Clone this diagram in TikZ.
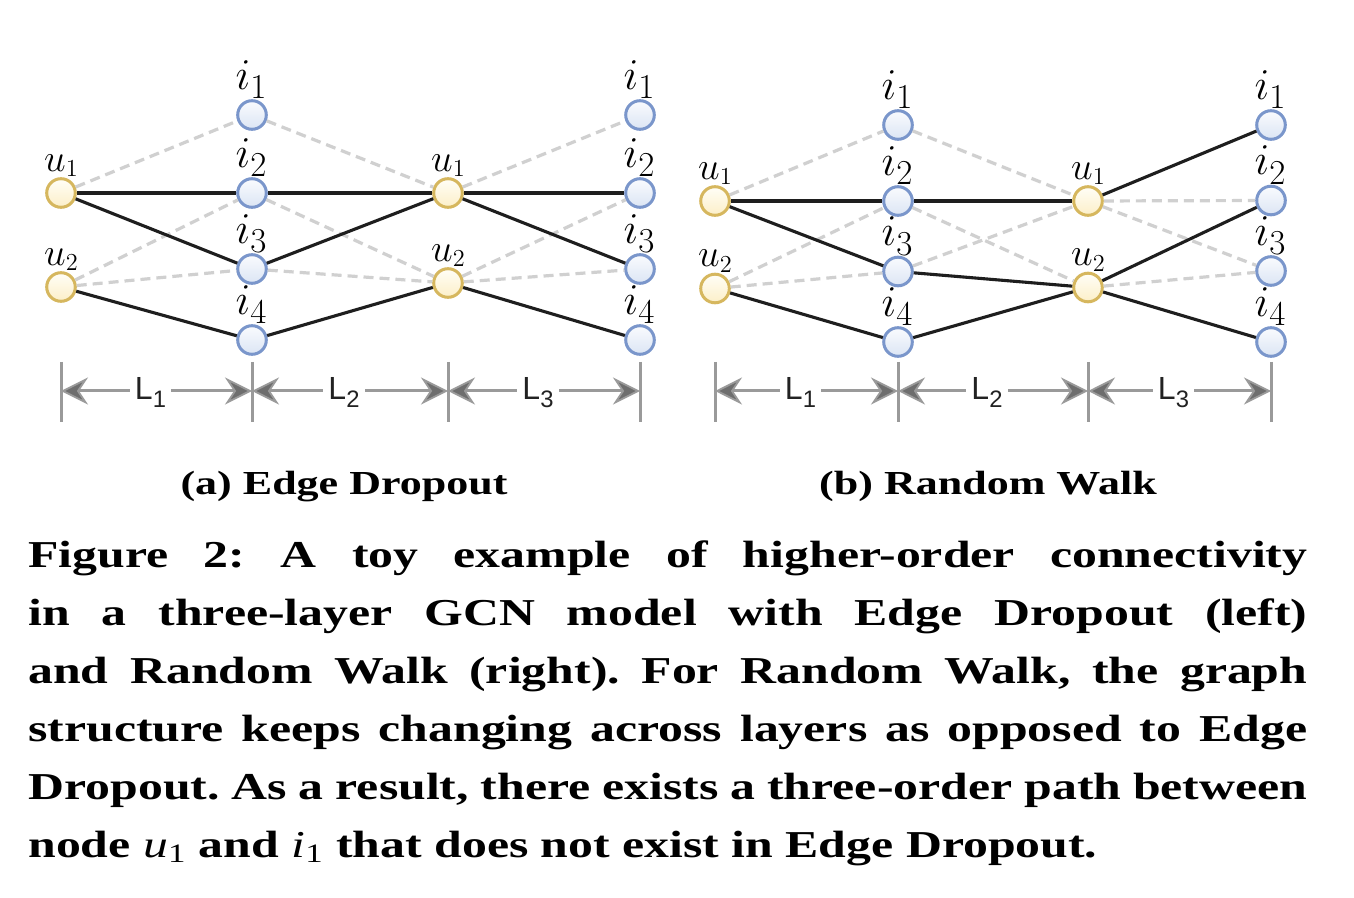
\RequirePackage{fix-cm}
\documentclass[tikz,border=0pt]{standalone}
\usepackage{fontspec}
\setmainfont{Liberation Serif}[FakeStretch=1.31]
\newfontfamily\dimfont{Liberation Sans}
\usetikzlibrary{arrows.meta}
\definecolor{ugold}{HTML}{D6B75E}
\definecolor{utop}{HTML}{FFFEF7}
\definecolor{ubot}{HTML}{FCEFC8}
\definecolor{iblue}{HTML}{7A96CB}
\definecolor{itop}{HTML}{F9FBFE}
\definecolor{ibot}{HTML}{DCE5F4}
\definecolor{solidc}{HTML}{1E1E1E}
\definecolor{dashc}{HTML}{D0D0D0}
\definecolor{dimc}{HTML}{9A9A9A}
\definecolor{tipc}{HTML}{6E6E6E}
\definecolor{dimtext}{HTML}{222222}
\newcommand\ulab[1]{{\fontsize{19.4}{20}\selectfont$u$}\raisebox{-2.8pt}{\fontsize{12.2}{13}\selectfont$#1$}}
\newcommand\ilab[1]{{\fontsize{22}{24}\selectfont$i$}\raisebox{-4.8pt}{\fontsize{17.5}{18}\selectfont$#1$}}
\newcommand\dlab[1]{L\raisebox{-4pt}{\fontsize{11.9}{12}\selectfont #1}}
\tikzset{
  unode/.style={circle, draw=ugold, line width=1.5pt, minimum size=14.3pt, inner sep=0pt, top color=utop, bottom color=ubot},
  inode/.style={circle, draw=iblue, line width=1.5pt, minimum size=14.3pt, inner sep=0pt, top color=itop, bottom color=ibot},
  glabel/.style={inner sep=0pt},
  soledge/.style={draw=solidc, line width=1.55pt},
  dashedge/.style={draw=dashc, line width=1.6pt, dash pattern=on 5pt off 3pt},
  dimtick/.style={draw=dimc, line width=1.5pt},
  dimarrow/.style={draw=dimc, line width=1.5pt, {Stealth[length=13.5pt, width=13.5pt, inset=4.5pt, fill=tipc, line width=0.9pt]}-{Stealth[length=13.5pt, width=13.5pt, inset=4.5pt, fill=tipc, line width=0.9pt]}},
  dimlabel/.style={fill=white, inner xsep=2.5pt, inner ysep=0pt, text=dimtext, font=\dimfont\fontsize{16}{16}\selectfont, xshift=-3pt, yshift=-0.6pt},
  subcap/.style={anchor=base, inner sep=0pt, font=\fontsize{16.8}{20}\selectfont\bfseries},
}
\begin{document}
\frenchspacing
\begin{tikzpicture}[x=0.5pt, y=-0.5pt]
\fill[white] (0,0) rectangle (1354,898);
\useasboundingbox (0,0) rectangle (1354,898);

% ---------------- panel (a) ----------------
\foreach \n/\x/\y/\k in {a-u1/61/193/1, a-u2/61/287/2, a-v1/448/193/1, a-v2/448/283/2}
  \node[unode, label={[glabel]above:\ulab{\k}}] (\n) at (\x,\y) {};
\foreach \n/\x/\y/\k in {a-i1/252/115/1, a-i2/252/193/2, a-i3/252/269/3, a-i4/252/340/4,
                         a-j1/640/115/1, a-j2/640/193/2, a-j3/640/269/3, a-j4/640/340/4}
  \node[inode, label={[glabel, xshift=-0.5pt]above:\ilab{\k}}] (\n) at (\x,\y) {};

\draw[dashedge] (a-u1) -- (a-i1);
\draw[dashedge] (a-u2) -- (a-i2);
\draw[dashedge] (a-u2) -- (a-i3);
\draw[dashedge] (a-i1) -- (a-v1);
\draw[dashedge] (a-i2) -- (a-v2);
\draw[dashedge] (a-i3) -- (a-v2);
\draw[dashedge] (a-v1) -- (a-j1);
\draw[dashedge] (a-v2) -- (a-j2);
\draw[dashedge] (a-v2) -- (a-j3);

\draw[soledge] (a-u1) -- (a-i2);
\draw[soledge] (a-u1) -- (a-i3);
\draw[soledge] (a-u2) -- (a-i4);
\draw[soledge] (a-i2) -- (a-v1);
\draw[soledge] (a-i3) -- (a-v1);
\draw[soledge] (a-i4) -- (a-v2);
\draw[soledge] (a-v1) -- (a-j2);
\draw[soledge] (a-v1) -- (a-j3);
\draw[soledge] (a-v2) -- (a-j4);

\coordinate (a-t1) at (61,391);
\coordinate (a-t2) at (252,391);
\coordinate (a-t3) at (448,391);
\coordinate (a-t4) at (640,391);
\foreach \t in {a-t1,a-t2,a-t3,a-t4}
  \draw[dimtick] (\t) ++(0,-29) -- ++(0,60);
\draw[dimarrow] (a-t1) -- node[dimlabel] (a-L1) {\dlab{1}} (a-t2);
\draw[dimarrow] (a-t2) -- node[dimlabel] (a-L2) {\dlab{2}} (a-t3);
\draw[dimarrow] (a-t3) -- node[dimlabel] (a-L3) {\dlab{3}} (a-t4);

\node[subcap] (capa) at (344,494) {(a) Edge Dropout};

% ---------------- panel (b) ----------------
\foreach \n/\x/\y/\k in {b-u1/715/201/1, b-u2/715/288.5/2, b-v1/1088/201/1, b-v2/1088/287.5/2}
  \node[unode, label={[glabel]above:\ulab{\k}}] (\n) at (\x,\y) {};
\foreach \n/\x/\y/\k in {b-i1/898/125/1, b-i2/898/201/2, b-i3/898/271.5/3, b-i4/898/342/4,
                         b-j1/1271/125/1, b-j2/1271/200.5/2, b-j3/1271/271/3, b-j4/1271/342/4}
  \node[inode, label={[glabel, xshift=-0.5pt]above:\ilab{\k}}] (\n) at (\x,\y) {};

\draw[dashedge] (b-u1) -- (b-i1);
\draw[dashedge] (b-u2) -- (b-i2);
\draw[dashedge] (b-u2) -- (b-i3);
\draw[dashedge] (b-i1) -- (b-v1);
\draw[dashedge] (b-i2) -- (b-v2);
\draw[dashedge] (b-i3) -- (b-v1);
\draw[dashedge] (b-v1) -- (b-j2);
\draw[dashedge] (b-v1) -- (b-j3);
\draw[dashedge] (b-v2) -- (b-j3);

\draw[soledge] (b-u1) -- (b-i2);
\draw[soledge] (b-u1) -- (b-i3);
\draw[soledge] (b-u2) -- (b-i4);
\draw[soledge] (b-i2) -- (b-v1);
\draw[soledge] (b-i3) -- (b-v2);
\draw[soledge] (b-i4) -- (b-v2);
\draw[soledge] (b-v1) -- (b-j1);
\draw[soledge] (b-v2) -- (b-j2);
\draw[soledge] (b-v2) -- (b-j4);

\coordinate (b-t1) at (715,391);
\coordinate (b-t2) at (898,391);
\coordinate (b-t3) at (1088,391);
\coordinate (b-t4) at (1271,391);
\foreach \t in {b-t1,b-t2,b-t3,b-t4}
  \draw[dimtick] (\t) ++(0,-29) -- ++(0,60);
\draw[dimarrow] (b-t1) -- node[dimlabel] (b-L1) {\dlab{1}} (b-t2);
\draw[dimarrow] (b-t2) -- node[dimlabel] (b-L2) {\dlab{2}} (b-t3);
\draw[dimarrow] (b-t3) -- node[dimlabel] (b-L3) {\dlab{3}} (b-t4);

\node[subcap] (capb) at (988,494) {(b) Random Walk};

% ---------------- caption ----------------
\node[anchor=base west, inner sep=0pt] (caption) at (28,567) {\parbox[t]{639.5pt}{\fontsize{19}{29}\selectfont\bfseries
\makebox[639.5pt][s]{Figure 2: A toy example of higher-order connectivity}\\
\makebox[639.5pt][s]{in a three-layer GCN model with Edge Dropout (left)}\\
\makebox[639.5pt][s]{and Random Walk (right). For Random Walk, the graph}\\
\makebox[639.5pt][s]{structure keeps changing across layers as opposed to Edge}\\
\makebox[639.5pt][s]{Dropout. As a result, there exists a three-order path between}\\
node {\mdseries\itshape u}{\mdseries\textsubscript{1}} and {\mdseries\itshape i}{\mdseries\textsubscript{1}} that does not exist in Edge Dropout.}};
\end{tikzpicture}
\end{document}
